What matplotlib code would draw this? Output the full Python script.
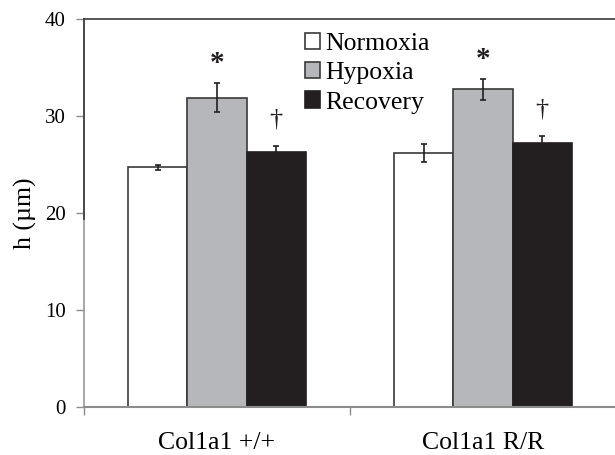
import matplotlib
matplotlib.use("Agg")
import matplotlib.pyplot as plt
import numpy as np

# Data: wall thickness h (µm) by genotype and condition
genotypes = ["Col1a1 +/+", "Col1a1 R/R"]
conditions = ["Normoxia", "Hypoxia", "Recovery"]
normoxia = [24.7, 26.15]
hypoxia = [31.9, 32.75]
recovery = [26.3, 27.25]
normoxia_err = [0.25, 0.93]
hypoxia_err = [1.5, 1.08]
recovery_err = [0.56, 0.65]
hypoxia_marks = ["*", "*"]
recovery_marks = ["\u2020", "\u2020"]
y_ticks = [0, 10, 20, 30, 40]

plt.rcParams["font.family"] = ["Liberation Serif", "DejaVu Serif"]

W, H = 615, 455
fig = plt.figure(figsize=(W / 100, H / 100), dpi=100)
ax = fig.add_axes([84 / W, (H - 406.7) / H, 532 / W, (406.7 - 19) / H])

series = [normoxia, hypoxia, recovery]
errs = [normoxia_err, hypoxia_err, recovery_err]
colors = ["#ffffff", "#b6b7bb", "#231f20"]
edges = ["#3a3a3a", "#3a3a3a", "#231f20"]

x = np.arange(len(genotypes)) + 0.5
bw = 1 / 1.5 / 3
for i, (vals, e, c, ec) in enumerate(zip(series, errs, colors, edges)):
    pos = x + (i - 1) * bw
    ax.bar(pos, vals, width=bw, color=c, edgecolor=ec, linewidth=1.2,
           label=conditions[i], zorder=2)
    ax.errorbar(pos, vals, yerr=e, fmt="none", ecolor="#231f20",
                elinewidth=1.2, capsize=2.2, capthick=1.2, zorder=3)

# significance markers
for j in range(len(genotypes)):
    top = hypoxia[j] + hypoxia_err[j]
    ax.annotate(hypoxia_marks[j], (x[j], top), xytext=(0, 6),
                textcoords="offset pixels", ha="center", va="bottom",
                fontsize=21, fontweight="bold", color="#231f20")
    top = recovery[j] + recovery_err[j]
    ax.annotate(recovery_marks[j], (x[j] + bw, top), xytext=(0, 16),
                textcoords="offset pixels", ha="center", va="bottom",
                fontsize=19, color="#231f20")

ax.set_xlim(0, 2)
ax.set_ylim(0, 40)
ax.set_yticks(y_ticks)
ax.set_xticks(x)
ax.set_xticklabels(genotypes, fontsize=18.5)
ax.set_xticks([0, 1, 2], minor=True)
ax.tick_params(axis="x", which="major", length=0, pad=18)
ax.tick_params(axis="x", which="minor", length=6, width=1, color="#8c8c8c")
ax.tick_params(axis="y", length=6, width=1, color="#8c8c8c", labelsize=15, pad=7)
ax.set_ylabel("h (\u00b5m)", fontsize=18.5, labelpad=6)

ax.spines["right"].set_visible(False)
ax.spines["top"].set_color("#3a3a3a")
ax.spines["top"].set_linewidth(1.2)
ax.spines["bottom"].set_color("#8c8c8c")
ax.spines["bottom"].set_linewidth(1.5)
ax.spines["left"].set_color("#9a9a9a")
ax.spines["left"].set_linewidth(1.2)
# darker upper portion of the value axis
ax.plot([0, 0], [19.4, 40], color="#3a3a3a", lw=1.2, clip_on=False, zorder=4)

fig.legend(loc="upper left", bbox_to_anchor=(305 / W, 1 - 33 / H),
           frameon=False, fontsize=18.5, handlelength=0.6,
           handleheight=0.6, handletextpad=0.2, labelspacing=0.27,
           borderpad=0, borderaxespad=0)

fig.savefig("out.png", dpi=100)
